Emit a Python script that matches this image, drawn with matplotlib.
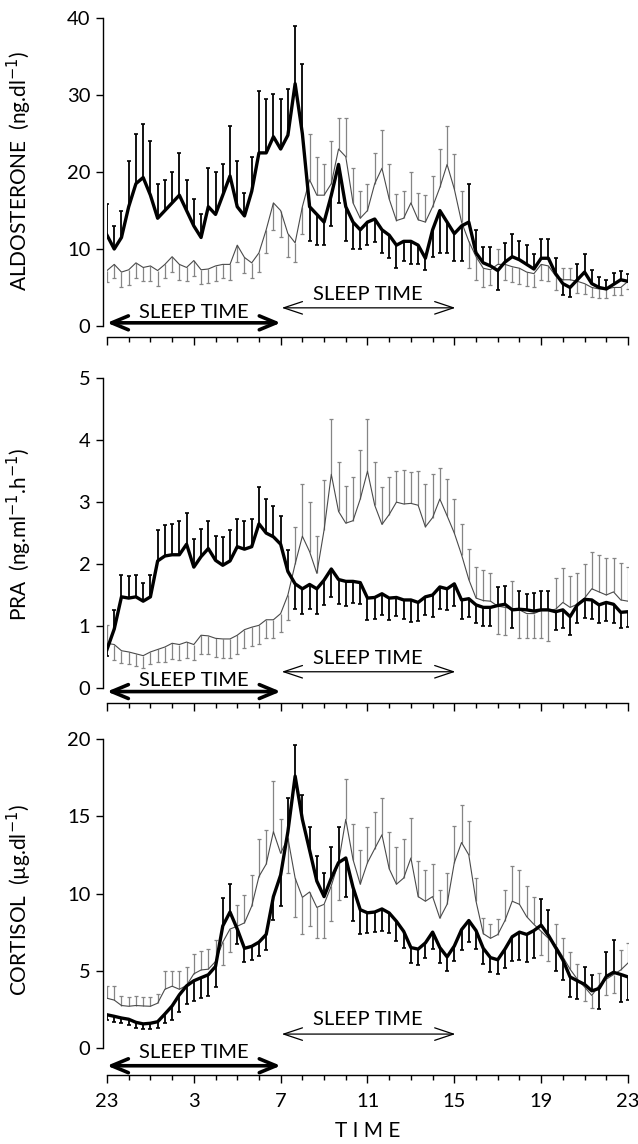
import numpy as np
import matplotlib
matplotlib.use('Agg')
import matplotlib.pyplot as plt

plt.rcParams['font.family'] = ['Lato', 'DejaVu Sans']

# sample times, minutes after 23:00 (20-min sampling)
minutes = list(range(0, 1441, 20))
hours = np.array(minutes) / 60.0

time_ticks = [0, 4, 8, 12, 16, 20, 24]
time_labels = ['23', '3', '7', '11', '15', '19', '23']

# ---- aldosterone (ng/dl) ----
ald_thick = [11.8, 10, 11.5, 15.5, 18.5, 19.3, 17, 14, 15, 16, 17, 15, 13, 11.5, 15.5, 14.5,
             17, 19.5, 15.5, 14.3, 17.5, 22.5, 22.5, 24.6, 23, 24.8, 31.5, 25, 15.5, 14.5, 13.5,
             17, 21, 15.5, 13.5, 12.5, 13.5, 13.9, 12.5, 11.8, 10.5, 11, 11, 10.5, 8.8, 12.5, 15,
             13.5, 12, 13, 13.5, 9.5, 8.2, 7.8, 7.2, 8.3, 9, 8.6, 8, 7.4, 8.8, 8.8, 6.8, 5.5, 5,
             6, 7, 5.5, 5, 4.8, 5.4, 6, 5.8]
ald_thick_err = [4, 3, 3.5, 6, 6.5, 7, 7, 4.5, 4, 4, 5.5, 4, 3.5, 3, 5, 5.5, 4, 6.5, 6, 3, 4.5,
                 8, 7, 5.5, 6.5, 6, 7.5, 9, 4.5, 4, 3, 4, 5, 4.5, 3.5, 2.5, 3, 3, 3, 3, 3, 2.5,
                 3, 2.5, 1.5, 3.5, 5.5, 4, 3.5, 4.5, 5, 3, 2, 2.5, 2.5, 2.5, 3, 2.5, 2.5, 2, 2.5,
                 2.5, 2, 1.5, 1.2, 2, 2.3, 1.8, 1.3, 1.2, 1.5, 1.2, 1]
ald_thin = [7.2, 8, 7, 7.3, 8.2, 7.6, 7.8, 7.2, 8, 9, 8, 7.6, 8.5, 7.3, 7.4, 7.8, 8, 8, 10.5,
            8.9, 8.2, 9.5, 12.5, 16, 15, 12, 10.8, 15.5, 19, 17, 17, 18.5, 23, 22, 16, 14, 15,
            18.5, 20.5, 16.5, 13.7, 14, 16, 13.8, 13.5, 15.5, 18, 21, 17.8, 13.5, 11, 9, 7.5,
            7.3, 8, 8, 7.7, 7.5, 7, 6.8, 8, 7.8, 6.5, 6, 6, 5.8, 5.5, 5, 4.8, 4.8, 5, 5, 5.8]
ald_thin_err = [1.5, 1.8, 2, 2, 2, 1.8, 2, 2, 1.8, 2, 2, 1.8, 2, 1.8, 1.8, 2, 1.8, 2, 2.2, 2, 2,
                2.5, 3, 3.5, 3.5, 3, 2.5, 3.5, 6, 5, 4, 5.5, 4, 5, 4.5, 3.5, 3.5, 4, 5, 4.5, 3.5,
                3.5, 4, 3.5, 3.5, 4, 5, 5, 4.5, 4, 3.5, 3, 2.5, 2, 2, 2, 2, 2, 1.8, 1.8, 2, 2,
                1.8, 1.5, 1.5, 1.5, 1.3, 1.2, 1.2, 1.2, 1, 1, 1]

# ---- plasma renin activity (ng/ml/h) ----
pra_thick = [0.62, 0.95, 1.47, 1.45, 1.47, 1.4, 1.47, 2.05, 2.13, 2.15, 2.15, 2.32, 1.95, 2.12,
             2.25, 2.06, 1.98, 2.05, 2.28, 2.24, 2.28, 2.65, 2.5, 2.44, 2.32, 1.88, 1.68, 1.6,
             1.67, 1.6, 1.74, 1.92, 1.75, 1.72, 1.72, 1.7, 1.45, 1.46, 1.52, 1.45, 1.46, 1.42,
             1.42, 1.38, 1.47, 1.5, 1.63, 1.6, 1.68, 1.42, 1.44, 1.34, 1.3, 1.3, 1.33, 1.35,
             1.26, 1.27, 1.26, 1.24, 1.26, 1.26, 1.23, 1.26, 1.15, 1.34, 1.43, 1.42, 1.34, 1.38,
             1.35, 1.22, 1.23]
pra_thick_err = [0.1, 0.3, 0.35, 0.35, 0.35, 0.3, 0.35, 0.5, 0.5, 0.5, 0.55, 0.5, 0.45, 0.45,
                 0.45, 0.4, 0.45, 0.5, 0.45, 0.45, 0.45, 0.6, 0.55, 0.5, 0.45, 0.35, 0.4, 0.4,
                 0.4, 0.4, 0.4, 0.45, 0.4, 0.4, 0.35, 0.35, 0.35, 0.35, 0.35, 0.35, 0.3, 0.3,
                 0.35, 0.3, 0.3, 0.35, 0.35, 0.35, 0.35, 0.3, 0.3, 0.3, 0.3, 0.3, 0.3, 0.3, 0.3,
                 0.3, 0.25, 0.3, 0.3, 0.3, 0.3, 0.3, 0.3, 0.3, 0.3, 0.3, 0.3, 0.3, 0.3, 0.25, 0.25]
pra_thin = [0.72, 0.7, 0.6, 0.58, 0.55, 0.52, 0.58, 0.62, 0.66, 0.72, 0.7, 0.74, 0.7, 0.85, 0.84,
            0.8, 0.79, 0.79, 0.85, 0.94, 0.98, 1.01, 1.1, 1.1, 1.2, 1.5, 2.0, 2.45, 2.2, 1.85,
            2.55, 3.45, 2.85, 2.66, 2.7, 3.05, 3.5, 2.95, 2.64, 2.8, 3.0, 2.97, 2.98, 2.95, 2.6,
            2.75, 3.05, 2.78, 2.5, 2.15, 1.75, 1.45, 1.41, 1.4, 1.32, 1.3, 1.28, 1.26, 1.2, 1.2,
            1.25, 1.25, 1.27, 1.38, 1.3, 1.35, 1.45, 1.6, 1.55, 1.5, 1.55, 1.42, 1.4]
pra_thin_err = [0.3, 0.25, 0.2, 0.2, 0.2, 0.2, 0.2, 0.2, 0.25, 0.25, 0.25, 0.25, 0.25, 0.3, 0.3,
                0.3, 0.3, 0.3, 0.3, 0.3, 0.3, 0.3, 0.3, 0.3, 0.3, 0.4, 0.6, 0.85, 0.8, 0.6, 0.8,
                0.9, 0.8, 0.6, 0.7, 0.8, 0.85, 0.7, 0.6, 0.6, 0.5, 0.55, 0.5, 0.55, 0.7, 0.7,
                0.5, 0.6, 0.55, 0.5, 0.5, 0.5, 0.5, 0.45, 0.45, 0.45, 0.45, 0.45, 0.4, 0.4, 0.45,
                0.5, 0.5, 0.55, 0.5, 0.5, 0.55, 0.6, 0.6, 0.6, 0.55, 0.6, 0.55]

# ---- cortisol (ug/dl) ----
cor_thick = [2.15, 2.05, 1.94, 1.86, 1.66, 1.56, 1.6, 1.7, 2.2, 2.72, 3.44, 4.02, 4.35, 4.55,
             4.74, 5.28, 7.9, 8.8, 7.7, 6.45, 6.58, 6.85, 7.35, 9.8, 11.2, 14, 17.6, 14.8, 12.8,
             10.8, 9.8, 11, 12, 12.3, 10.4, 8.95, 8.75, 8.8, 9.0, 8.74, 8.2, 7.55, 6.5, 6.4, 6.8,
             7.5, 6.5, 5.9, 6.6, 7.66, 8.25, 7.6, 6.45, 5.85, 5.71, 6.4, 7.2, 7.5, 7.35, 7.6,
             7.95, 7.3, 6.5, 5.7, 4.6, 4.35, 4.12, 3.7, 3.85, 4.63, 4.9, 4.76, 4.6]
cor_thick_err = [0.35, 0.35, 0.35, 0.35, 0.35, 0.35, 0.35, 0.4, 0.6, 0.9, 1.1, 1.2, 1.3, 1.3,
                 1.4, 1.3, 1.8, 1.8, 1, 0.9, 0.9, 0.9, 1, 1.5, 2, 2.2, 2, 1.6, 1.5, 1.6, 1.5, 2,
                 2.3, 2.5, 2.2, 1.6, 1.3, 1.3, 1.4, 1.3, 1.3, 1.1, 1, 1, 1, 1.1, 1, 0.9, 1, 1.3,
                 1.4, 1.2, 1, 0.9, 0.9, 1.2, 1.6, 1.8, 1.8, 1.8, 1.7, 1.6, 1.5, 1.3, 1.3, 1.2,
                 1.1, 1, 1.3, 1.6, 2.1, 1.8, 1.5]
cor_thin = [3.22, 3.1, 2.75, 2.7, 2.75, 2.72, 2.7, 2.9, 3.8, 4.0, 3.8, 4.05, 4.8, 5.05, 5.1,
            5.6, 6.85, 7.7, 7.88, 8.1, 9.18, 11.1, 11.9, 14, 12.6, 13.6, 11, 9.75, 10.1, 9.1,
            9.3, 10.5, 12, 14.8, 12.2, 10.6, 12, 12.9, 13.8, 11.6, 10.6, 11, 12.3, 9.8, 9.5, 9.8,
            8.4, 9.3, 12, 13.3, 12.5, 9.5, 7.4, 7.1, 7.34, 8.25, 9.5, 9.3, 8.5, 8.0, 7.55, 7.1,
            6.65, 5.9, 5.1, 4.45, 3.95, 3.4, 4.05, 4.45, 4.75, 5.05, 5.5]
cor_thin_err = [0.8, 0.9, 0.6, 0.6, 0.6, 0.6, 0.6, 0.6, 1.2, 1, 1.2, 1.2, 1.3, 1.2, 1.3, 1.4,
                1.5, 1.5, 1.4, 1.8, 2, 2.4, 2.2, 3.3, 2.2, 2.3, 2.5, 2.4, 2.2, 2, 2.2, 2.3, 2.4,
                2.6, 2.3, 2.2, 2.3, 2.4, 2.4, 2.4, 2.4, 2.5, 2.6, 2.3, 2, 2.1, 1.8, 2, 2.4, 2.4,
                2.2, 1.5, 1, 0.9, 1, 2, 2.3, 2.2, 2, 1.8, 1.5, 1.5, 1.4, 1.2, 1.1, 1, 0.9, 0.8,
                0.8, 1, 1.2, 1.3, 1.3]

panels = [
    ('ALDOSTERONE  (ng.dl$^{-1}$)', ald_thick, ald_thick_err, ald_thin, ald_thin_err,
     [0, 10, 20, 30, 40], -1.4, (0.4, 1.8), (2.35, 4.1)),
    ('PRA  (ng.ml$^{-1}$.h$^{-1}$)', pra_thick, pra_thick_err, pra_thin, pra_thin_err,
     [0, 1, 2, 3, 4, 5], -0.25, (-0.06, 0.12), (0.26, 0.48)),
    ('CORTISOL  (µg.dl$^{-1}$)', cor_thick, cor_thick_err, cor_thin, cor_thin_err,
     [0, 5, 10, 15, 20], -1.75, (-1.15, -0.3), (0.9, 1.85)),
]
rects = [[0.1677, 0.7057, 0.8166, 0.2783],
         [0.1677, 0.3852, 0.8166, 0.2841],
         [0.1677, 0.0603, 0.8166, 0.2937]]

fig = plt.figure(figsize=(6.38, 11.44), dpi=100)

for i, (label, bk, bk_err, gr, gr_err, yt, ybot, thick_y, thin_y) in enumerate(panels):
    ax = fig.add_axes(rects[i])
    bk = np.array(bk)
    gr = np.array(gr)
    above = bk >= gr
    bk_tip = np.where(above, bk + np.array(bk_err), bk - np.array(bk_err))
    gr_tip = np.where(above, gr - np.array(gr_err), gr + np.array(gr_err))

    # thin series with grey bars
    ax.vlines(hours, gr, gr_tip, color='#858585', lw=0.9, zorder=2)
    ax.plot(hours, gr_tip, ls='none', marker='_', ms=3, mew=0.9, color='#858585', zorder=2)
    ax.plot(hours, gr, color='#4a4a4a', lw=0.8, zorder=3)
    # thick series with black bars
    ax.vlines(hours, bk, bk_tip, color='black', lw=1.3, zorder=4)
    ax.plot(hours, bk_tip, ls='none', marker='_', ms=3.5, mew=1.2, color='black', zorder=4)
    ax.plot(hours, bk, color='black', lw=2.4, zorder=5)

    # sleep periods
    ax.annotate('', xy=(8, thick_y[0]), xytext=(0, thick_y[0]),
                arrowprops=dict(arrowstyle='<->,head_length=0.6,head_width=0.25',
                                lw=2.6, color='black', shrinkA=0, shrinkB=0,
                                mutation_scale=20))
    ax.text(4, thick_y[1], 'SLEEP TIME', ha='center', va='center', fontsize=14.5)
    ax.annotate('', xy=(16.05, thin_y[0]), xytext=(8.05, thin_y[0]),
                arrowprops=dict(arrowstyle='<->,head_length=0.9,head_width=0.3',
                                lw=0.9, color='black', shrinkA=0, shrinkB=0,
                                mutation_scale=15))
    ax.text(12, thin_y[1], 'SLEEP TIME', ha='center', va='center', fontsize=14.5)

    ax.set_xlim(0, 24)
    ax.set_ylim(ybot, yt[-1])
    ax.set_yticks(yt)
    ax.set_xticks(time_ticks)
    ax.set_xticks(range(25), minor=True)
    if i == 2:
        ax.set_xticklabels(time_labels)
        ax.set_xlabel('T I M E', fontsize=15, labelpad=8)
    else:
        ax.set_xticklabels([])

    for s in ['top', 'right']:
        ax.spines[s].set_visible(False)
    ax.spines['left'].set_position(('outward', 3))
    ax.spines['left'].set_bounds(0, yt[-1])
    ax.spines['left'].set_linewidth(1.0)
    ax.spines['bottom'].set_linewidth(1.0)
    ax.tick_params(axis='y', direction='out', length=5, width=1, labelsize=14.5, pad=4)
    ax.tick_params(axis='x', which='major', direction='out', length=6, width=1,
                   labelsize=14.5, pad=7)
    ax.tick_params(axis='x', which='minor', direction='out', length=3.5, width=1)

    ax.set_ylabel(label, fontsize=15)
    ax.yaxis.set_label_coords(-0.14, 0.52)

fig.savefig('out.png', dpi=100)
